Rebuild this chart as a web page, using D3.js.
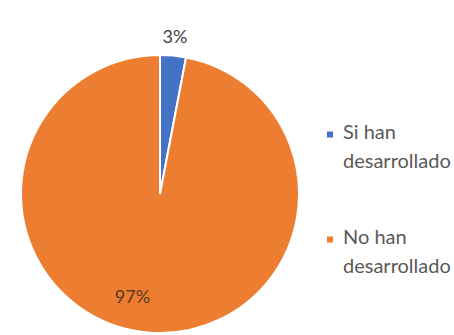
<!DOCTYPE html>
<html>
<head>
<meta charset="utf-8">
<script src="https://cdn.jsdelivr.net/npm/d3@7"></script>
<style>
  html, body { margin: 0; padding: 0; background: #ffffff; overflow: hidden; }
  svg { display: block; }
</style>
</head>
<body>
<svg id="chart" width="454" height="335"></svg>
<script>
// Survey answers: share of respondents
const categories = ["Si han desarrollado", "No han desarrollado"];
const legendLines = [["Si han", "desarrollado"], ["No han", "desarrollado"]];
const values = [3, 97];
const colors = ["#4472C4", "#ED7D31"];

const FONT = "Lato, Carlito, 'Open Sans', sans-serif";
const svg = d3.select("#chart");
const cx = 160, cy = 194, r = 139;

const pie = d3.pie().sort(null).value(d => d)(values);
const arc = d3.arc().innerRadius(0).outerRadius(r);

const g = svg.append("g").attr("transform", `translate(${cx},${cy})`);

g.selectAll("path.slice")
  .data(pie)
  .join("path")
  .attr("class", "slice")
  .attr("d", arc)
  .attr("fill", (d, i) => colors[i])
  .attr("stroke", "#ffffff")
  .attr("stroke-width", 2);

// Percentage labels: small slice outside the rim, large slice inside
const total = d3.sum(values);
function labelPos(d, i) {
  const mid = (d.startAngle + d.endAngle) / 2;
  const a = i === 0 ? mid : mid + 0.17;
  const rr = i === 0 ? r + 20 : r * 0.76;
  return [Math.sin(a) * rr, -Math.cos(a) * rr];
}

g.selectAll("text.pct")
  .data(pie)
  .join("text")
  .attr("class", "pct")
  .attr("transform", (d, i) => {
    const p = labelPos(d, i);
    return `translate(${p[0]},${p[1]})`;
  })
  .attr("text-anchor", "middle")
  .attr("dominant-baseline", "central")
  .attr("font-family", FONT)
  .attr("font-size", 18)
  .attr("fill", (d, i) => i === 0 ? "#404040" : "#5a3a20")
  .text(d => Math.round(d.data / total * 100) + "%");

// Legend
const legend = svg.append("g").attr("transform", "translate(327,0)");
const legendY = [134.5, 239.5];
categories.forEach((c, i) => {
  const item = legend.append("g").attr("transform", `translate(0,${legendY[i]})`);
  item.append("rect")
    .attr("x", 0).attr("y", -3)
    .attr("width", 6).attr("height", 6)
    .attr("fill", colors[i]);
  item.append("text")
    .attr("font-family", FONT)
    .attr("font-size", 20)
    .attr("fill", "#595959")
    .selectAll("tspan")
    .data(legendLines[i])
    .join("tspan")
    .attr("x", 16)
    .attr("y", (d, j) => j * 29 + 4.5)
    .text(d => d);
});
</script>
</body>
</html>
